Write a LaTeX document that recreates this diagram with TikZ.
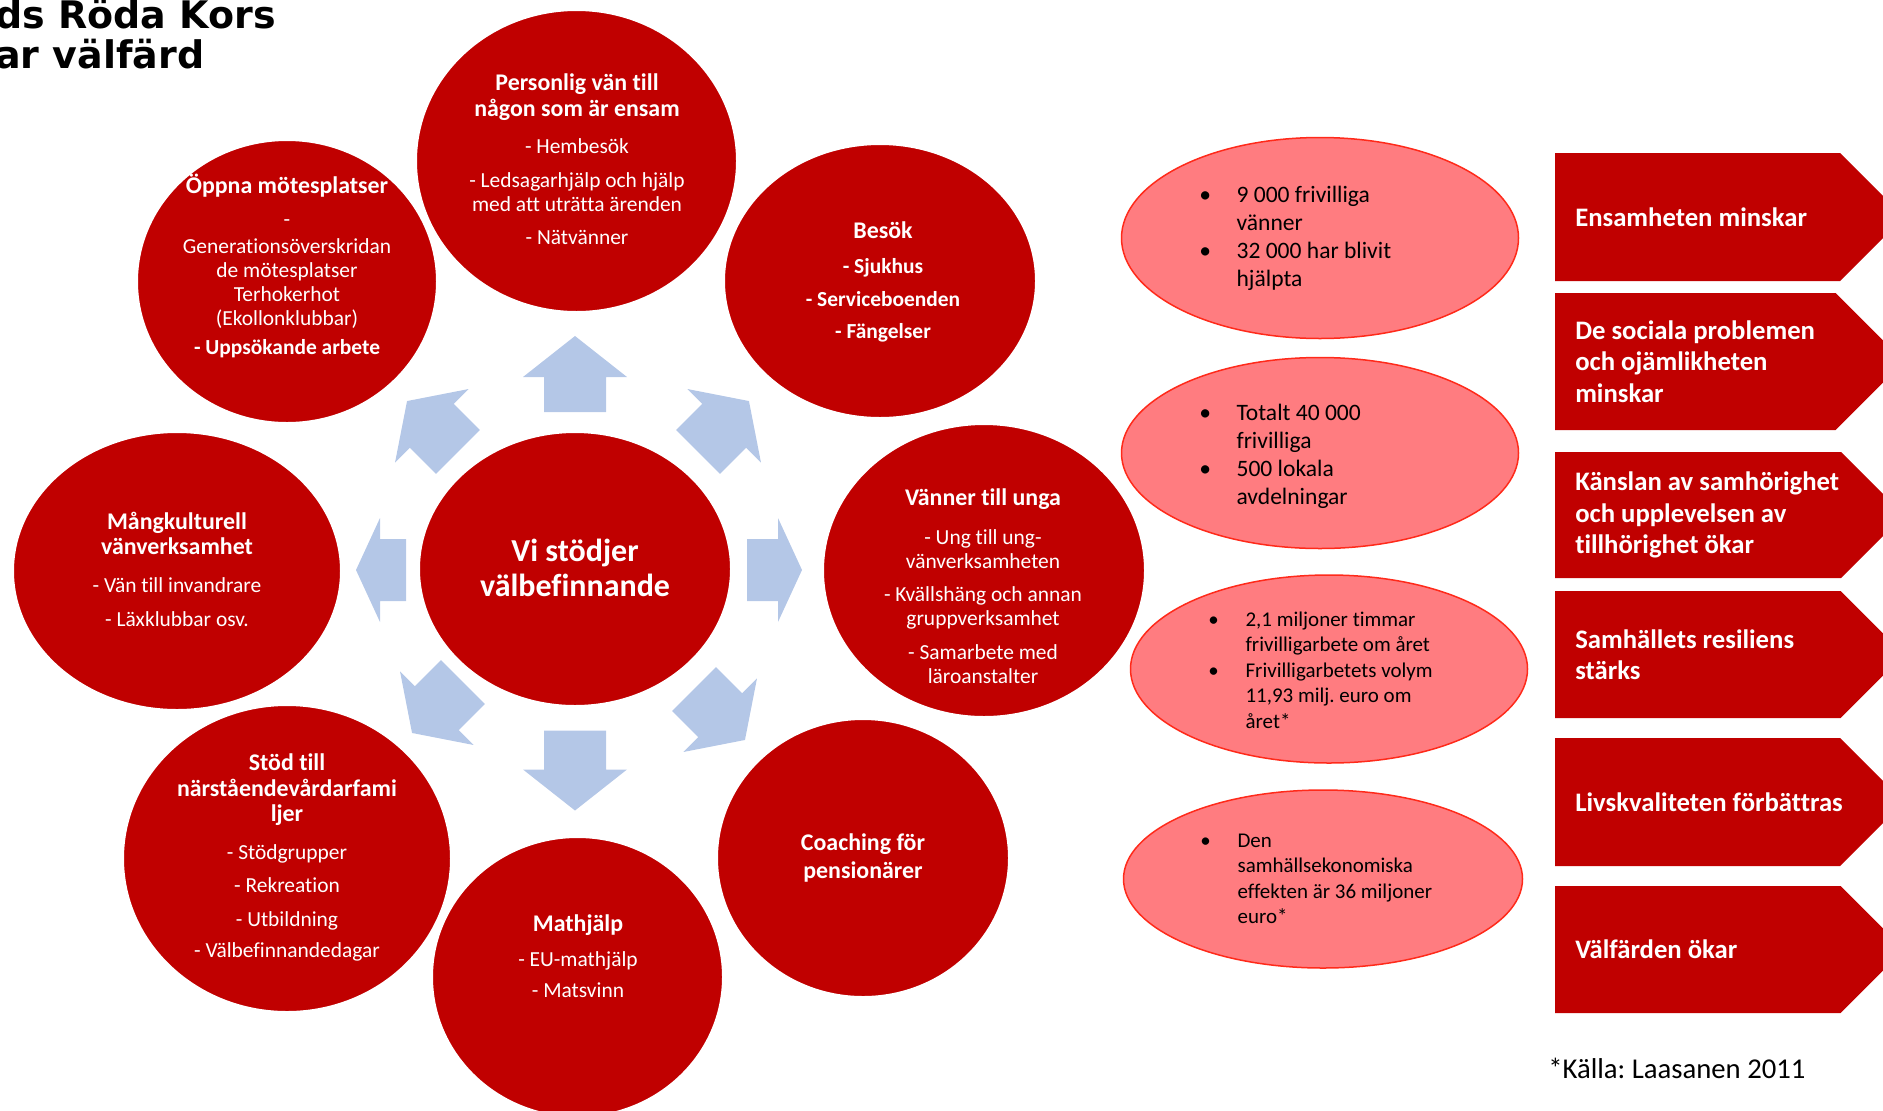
\documentclass[tikz,border=0pt]{standalone}
\usepackage{fontspec}
\setmainfont{Carlito}[Ligatures=NoCommon]
\newfontfamily\titlefont{DejaVu Sans}
\usetikzlibrary{shapes.geometric}
\definecolor{rkred}{HTML}{C00000}
\definecolor{spokeblue}{HTML}{B4C7E7}
\definecolor{statpink}{HTML}{FF7C80}
\definecolor{statline}{HTML}{FF2A1A}
\frenchspacing
\newcommand{\hd}[1]{{\fontsize{20.4}{20.5}\bfseries #1}}
\newcommand{\bul}{\makebox[1.12cm][l]{\textbullet}}
\newcommand{\ind}{\hspace*{1.12cm}}
% x, y, angle, length, head length
\newcommand{\spokearrow}[5]{\fill[spokeblue, shift={(#1,#2)}, rotate=#3]
  ({-#4/2},-31) -- ({#4/2-#5},-31) -- ({#4/2-#5},-52) -- ({#4/2},0)
  -- ({#4/2-#5},52) -- ({#4/2-#5},31) -- ({-#4/2},31) -- cycle;}
\begin{document}
\begin{tikzpicture}[x=0.03cm, y=-0.03cm,
    bubble/.style 2 args={ellipse, fill=rkred, draw=white, line width=0.06cm,
      inner sep=0pt, minimum width=#1*0.03cm, minimum height=#2*0.03cm},
    btxt/.style={text=white, align=center, inner sep=0pt,
      font=\fontsize{18.3}{20.5}\selectfont},
    statbub/.style 2 args={ellipse, fill=statpink, draw=statline, line width=0.045cm,
      inner sep=0pt, minimum width=#1*0.03cm, minimum height=#2*0.03cm},
    stattxt/.style={align=left, inner sep=0pt, anchor=west},
    outtxt/.style={text=white, align=left, inner sep=0pt, anchor=west,
      font=\fontsize{22.8}{26.9}\selectfont\bfseries}]
  \clip (0,0) rectangle (1883,1110);

  \node[anchor=base west, inner sep=0pt, font=\titlefont\bfseries\fontsize{32.4}{34}\selectfont]
    (title1) at (-5,28) {ds Röda Kors};
  \node[anchor=base west, inner sep=0pt, font=\titlefont\bfseries\fontsize{32.4}{34}\selectfont]
    (title2) at (-5,68) {ar välfärd};

  % spokes round the centre
  \spokearrow{575}{374}{90}{76}{41}
  \spokearrow{575}{770.5}{270}{80}{41}
  \spokearrow{774.5}{570}{0}{55}{24}
  \spokearrow{381}{570}{180}{50}{24}
  \spokearrow{723.5}{426.5}{45}{72}{35}
  \spokearrow{432.5}{426.5}{135}{72}{35}
  \spokearrow{437.5}{707.5}{225}{72}{35}
  \spokearrow{719.5}{714.5}{315}{72}{35}

  \node[bubble={321}{302}] (friend) at (576.5,161) {};
  \node[bubble={300}{283}] (meet) at (287,281.5) {};
  \node[bubble={312}{274}] (visit) at (880,281) {};
  \node[bubble={328}{278}] (multi) at (177,571) {};
  \node[bubble={322}{293}] (youth) at (984,570.5) {};
  \node[bubble={328}{307}] (carers) at (287,858.5) {};
  \node[bubble={292}{278}] (coach) at (863,858) {};
  \node[bubble={291}{280}] (food) at (577.5,977) {};
  \node[bubble={312}{274}] (core) at (575,569) {};

  \node[btxt] (friend-t) at (577,159) {\hd{Personlig vän till}\\[1.7pt]\hd{någon som är ensam}\\[11pt]
    - Hembesök\\[8.5pt]- Ledsagarhjälp och hjälp\\med att uträtta ärenden\\[7.7pt]- Nätvänner};
  \node[btxt] (meet-t) at (287,266) {\hd{Öppna mötesplatser}\\[7.7pt]-\\[2.6pt]Generationsöverskridan\\
    de mötesplatser\\Terhokerhot\\(Ekollonklubbar)\\[4.3pt]\textbf{- Uppsökande arbete}};
  \node[btxt] (visit-t) at (883,281.5) {\hd{Besök}\\[9.4pt]\textbf{- Sjukhus}\\[7.7pt]
    \textbf{- Serviceboenden}\\[6.8pt]\textbf{- Fängelser}};
  \node[btxt] (multi-t) at (177,569.5) {\hd{Mångkulturell}\\[1pt]\hd{vänverksamhet}\\[12pt]
    - Vän till invandrare\\[8.5pt]- Läxklubbar osv.};
  \node[btxt] (youth-t) at (983,586) {\hd{Vänner till unga}\\[12.8pt]- Ung till ung-\\vänverksamheten\\[7.7pt]
    - Kvällshäng och annan\\gruppverksamhet\\[8.5pt]- Samarbete med\\läroanstalter};
  \node[btxt] (carers-t) at (287,857.5) {\hd{Stöd till}\\[2pt]\hd{närståendevårdarfami}\\[1pt]\hd{ljer}\\[12pt]
    - Stödgrupper\\[7.7pt]- Rekreation\\[8.5pt]- Utbildning\\[6pt]- Välbefinnandedagar};
  \node[btxt] (food-t) at (578,956) {\hd{Mathjälp}\\[9.4pt]- EU-mathjälp\\[6pt]- Matsvinn};
  \node[btxt] (coach-t) at (863,858) {\hd{Coaching för}\\[2.6pt]\hd{pensionärer}};
  \node[btxt, font=\fontsize{27.3}{29.9}\selectfont\bfseries] (core-t) at (575,567.5)
    {Vi stödjer\\välbefinnande};

  % figures
  \node[statbub={397}{201}] (fig1) at (1320,238) {};
  \node[statbub={397}{191}] (fig2) at (1320,453) {};
  \node[statbub={397}{188}] (fig3) at (1329,669) {};
  \node[statbub={399}{178}] (fig4) at (1323,879) {};
  \node[stattxt, font=\fontsize{20.1}{23.9}\selectfont] (fig1-t) at (1199,238)
    {\bul 9 000 frivilliga\\\ind vänner\\\bul 32 000 har blivit\\\ind hjälpta};
  \node[stattxt, font=\fontsize{20.1}{23.9}\selectfont] (fig2-t) at (1199,456)
    {\bul Totalt 40 000\\\ind frivilliga\\\bul 500 lokala\\\ind avdelningar};
  \node[stattxt, font=\fontsize{17.9}{21.8}\selectfont] (fig3-t) at (1208,670)
    {\bul 2,1 miljoner timmar\\\ind frivilligarbete om året\\\bul Frivilligarbetets volym\\
     \ind 11,93 milj. euro om\\\ind året*};
  \node[stattxt, font=\fontsize{17.9}{21.8}\selectfont] (fig4-t) at (1200,879)
    {\bul Den\\\ind samhällsekonomiska\\\ind effekten är 36 miljoner\\\ind euro*};

  % outcomes
  \foreach \yc/\hh/\txt [count=\i] in {217/128/{Ensamheten minskar},
      361.5/137/{De sociala problemen\\och ojämlikheten\\minskar},
      515/126/{Känslan av samhörighet\\och upplevelsen av\\tillhörighet ökar},
      654.5/127/{Samhällets resiliens\\stärks},
      802/128/{Livskvaliteten förbättras},
      949.5/127/{Välfärden ökar}}{
    \fill[rkred] (1555,{\yc-\hh/2}) -- ({1904-\hh/2},{\yc-\hh/2}) -- (1904,\yc)
      -- ({1904-\hh/2},{\yc+\hh/2}) -- (1555,{\yc+\hh/2}) -- cycle;
    \node[outtxt] (out\i) at (1575,\yc) {\txt};
  }

  \node[anchor=base west, inner sep=0pt, font=\fontsize{24.5}{28}\selectfont]
    (source) at (1548,1078) {*Källa: Laasanen 2011};
\end{tikzpicture}
\end{document}
